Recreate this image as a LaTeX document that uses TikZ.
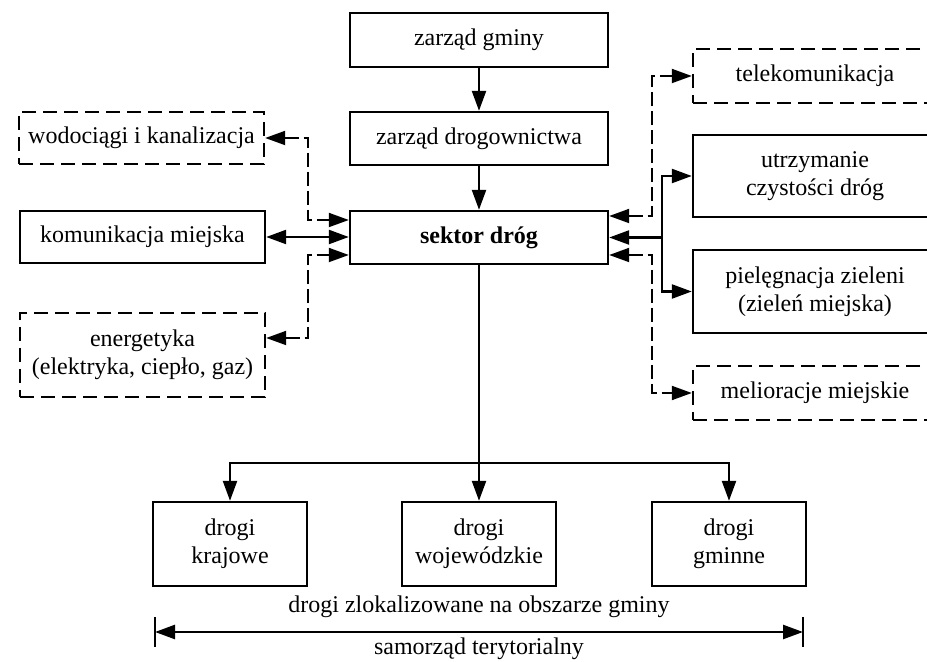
\documentclass[tikz,border=0pt]{standalone}
\usepackage{fontspec}
\setmainfont{Liberation Serif}
\usetikzlibrary{arrows.meta}

\tikzset{
  >={Triangle[length=10pt,width=7pt]},
  box/.style={draw, line width=1.2pt, inner sep=0pt, align=center,
              font=\fontsize{12}{14}\selectfont},
  dbox/.style={box, dash pattern=on 7pt off 3.5pt},
  line/.style={line width=1.2pt},
  dline/.style={line width=1pt, dash pattern=on 7pt off 2.5pt},
  lbl/.style={inner sep=0pt, font=\fontsize{12}{14}\selectfont}
}

\begin{document}
\begin{tikzpicture}[x=0.5pt, y=-0.5pt]
  \useasboundingbox (0,0) rectangle (927,662);
  \fill[white] (0,0) rectangle (927,662);
  \clip (0,0) rectangle (927,662);

  % central column
  \node[box, minimum width=129pt, minimum height=27pt]   (gmina)  at (479,40)    {zarząd gminy};
  \node[box, minimum width=129pt, minimum height=26.5pt] (drog)   at (479,138.5) {zarząd drogownictwa};
  \node[box, minimum width=129pt, minimum height=26.5pt] (sektor) at (479,237.5) {\textbf{sektor dróg}};

  % left column
  \node[dbox, minimum width=122.5pt, minimum height=26pt] (wod)  at (141.5,138) {wodociągi i kanalizacja};
  \node[box,  minimum width=122.5pt, minimum height=26pt] (kom)  at (142.5,237) {komunikacja miejska};
  \node[dbox, minimum width=122.5pt, minimum height=42pt] (ener) at (142.5,355) {energetyka\\(elektryka, ciepło, gaz)};

  % right column (boxes run past the right edge)
  \node[dbox, minimum width=122pt, minimum height=27pt]   (tele)  at (815,76)    {telekomunikacja};
  \node[box,  minimum width=122pt, minimum height=41pt]   (utrz)  at (815,176)   {utrzymanie\\czystości dróg};
  \node[box,  minimum width=122pt, minimum height=41.5pt] (piel)  at (815,291.5) {pielęgnacja zieleni\\(zieleń miejska)};
  \node[dbox, minimum width=122pt, minimum height=27pt]   (melio) at (815,393)   {melioracje miejskie};

  % road categories
  \node[box, minimum width=77pt, minimum height=42pt] (kraj) at (230,544) {drogi\\krajowe};
  \node[box, minimum width=77pt, minimum height=42pt] (woj)  at (479,544) {drogi\\wojewódzkie};
  \node[box, minimum width=77pt, minimum height=42pt] (gmin) at (729,544) {drogi\\gminne};

  % bottom labels
  \node[lbl] (obszar) at (479,607) {drogi zlokalizowane na obszarze gminy};
  \node[lbl] (samo)   at (479,649) {samorząd terytorialny};

  % vertical chain
  \draw[line,->] (gmina.south) -- (drog.north);
  \draw[line,->] (drog.south) -- (sektor.north);

  % left links
  \draw[dline,<->] (wod.east) -| (308,220) -- (sektor.west |- 0,220);
  \draw[line,<->]  (kom.east) -- (kom.east -| sektor.west);
  \draw[dline,<->] (ener.east |- 0,338) -| (308,255) -- (sektor.west |- 0,255);

  % right links
  \coordinate (rj) at (662,237.5);
  \draw[dline,<->] (sektor.east |- 0,216) -| (652,76) -- (tele.west);
  \draw[line,<-]   (sektor.east) -- (rj);
  \draw[line,->]   (rj) |- (utrz.west);
  \draw[line,->]   (rj) |- (piel.west);
  \draw[dline,<->] (sektor.east |- 0,255) -| (652,393) -- (melio.west);

  % branch to road categories
  \coordinate (bj) at (479,463);
  \draw[line,->] (sektor.south) -- (woj.north);
  \draw[line,->] (bj) -| (kraj.north);
  \draw[line,->] (bj) -| (gmin.north);

  % extent arrow with end ticks
  \coordinate (tl) at (155,632);
  \coordinate (tr) at (803,632);
  \draw[line,<->] (tl) -- (tr);
  \draw[line] ([yshift=7.5pt]tl) -- ([yshift=-7.5pt]tl);
  \draw[line] ([yshift=7.5pt]tr) -- ([yshift=-7.5pt]tr);
\end{tikzpicture}
\end{document}
